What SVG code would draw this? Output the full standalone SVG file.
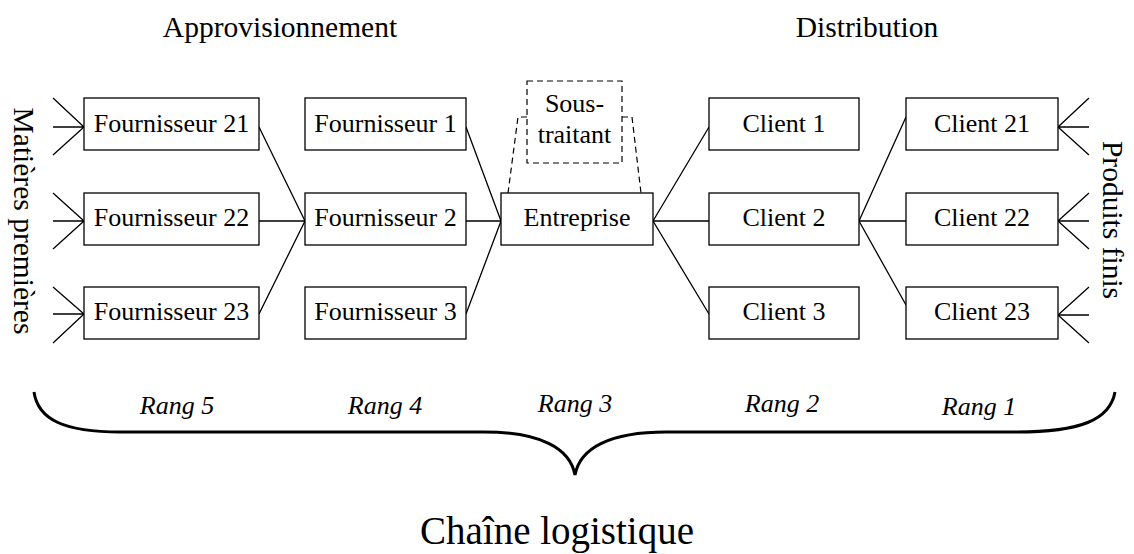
<svg xmlns="http://www.w3.org/2000/svg" width="1134" height="554" viewBox="0 0 1134 554">
<style>
  .box { fill: #ffffff; stroke: #000000; stroke-width: 1.3; }
  .dash { fill: none; stroke: #000000; stroke-width: 1.2; stroke-dasharray: 6 4; }
  .ln { fill: none; stroke: #000000; stroke-width: 1.3; }
  .brace { fill: none; stroke: #000000; stroke-width: 3; }
  .t { font-family: "Liberation Serif", "Times New Roman", serif; font-size: 26px; fill: #000000; text-anchor: middle; }
  .h { font-family: "Liberation Serif", "Times New Roman", serif; font-size: 29.5px; fill: #000000; text-anchor: middle; }
  .r { font-family: "Liberation Serif", "Times New Roman", serif; font-size: 26px; font-style: italic; fill: #000000; text-anchor: middle; }
  .big { font-family: "Liberation Serif", "Times New Roman", serif; font-size: 39px; fill: #000000; text-anchor: middle; }
</style>

<g id="connectors">
  <path class="ln" d="M53,98 L84,127 M53,127 H84 M53,155 L84,127"/>
  <path class="ln" d="M53,193 L84,221 M53,221 H84 M53,249 L84,221"/>
  <path class="ln" d="M53,287 L84,314 M53,314 H84 M53,343 L84,314"/>
  <path class="ln" d="M259,127 L305,221 M259,221 H305 M259,314 L305,221"/>
  <path class="ln" d="M466,127 L501,221 M466,221 H501 M466,314 L501,221"/>
  <path class="ln" d="M653,221 L709,127 M653,221 H709 M653,221 L709,314"/>
  <path class="ln" d="M859,221 L906,117 M859,221 H906 M859,221 L906,305"/>
  <path class="ln" d="M1058,127 L1089,98 M1058,127 H1089 M1058,127 L1089,155"/>
  <path class="ln" d="M1058,221 L1089,193 M1058,221 H1089 M1058,221 L1089,249"/>
  <path class="ln" d="M1058,315 L1089,287 M1058,315 H1089 M1058,315 L1089,343"/>
  <path class="dash" d="M527,117 H518 L508,193"/>
  <path class="dash" d="M622,117 H632 L641,193"/>
</g>

<g id="f21"><rect class="box" x="84" y="98" width="175" height="52"/><text class="t" x="171.5" y="132">Fournisseur 21</text></g>
<g id="f22"><rect class="box" x="84" y="193" width="175" height="52"/><text class="t" x="171.5" y="226">Fournisseur 22</text></g>
<g id="f23"><rect class="box" x="84" y="287" width="175" height="52"/><text class="t" x="171.5" y="320">Fournisseur 23</text></g>

<g id="f1"><rect class="box" x="305" y="98" width="161" height="52"/><text class="t" x="385.5" y="132">Fournisseur 1</text></g>
<g id="f2"><rect class="box" x="305" y="193" width="161" height="52"/><text class="t" x="385.5" y="226">Fournisseur 2</text></g>
<g id="f3"><rect class="box" x="305" y="287" width="161" height="52"/><text class="t" x="385.5" y="320">Fournisseur 3</text></g>

<g id="soustraitant"><rect class="dash" x="527" y="81" width="95" height="82"/><text class="t" x="574.5" y="112">Sous-</text><text class="t" x="574.5" y="143">traitant</text></g>
<g id="entreprise"><rect class="box" x="501" y="193" width="152" height="52"/><text class="t" x="577" y="226">Entreprise</text></g>

<g id="c1"><rect class="box" x="709" y="98" width="150" height="52"/><text class="t" x="784" y="132">Client 1</text></g>
<g id="c2"><rect class="box" x="709" y="193" width="150" height="52"/><text class="t" x="784" y="226">Client 2</text></g>
<g id="c3"><rect class="box" x="709" y="287" width="150" height="52"/><text class="t" x="784" y="320">Client 3</text></g>

<g id="c21"><rect class="box" x="906" y="98" width="152" height="52"/><text class="t" x="982" y="132">Client 21</text></g>
<g id="c22"><rect class="box" x="906" y="193" width="152" height="52"/><text class="t" x="982" y="226">Client 22</text></g>
<g id="c23"><rect class="box" x="906" y="287" width="152" height="52"/><text class="t" x="982" y="320">Client 23</text></g>

<g id="labels">
  <text class="h" x="280" y="37">Approvisionnement</text>
  <text class="h" x="867" y="37">Distribution</text>
  <text class="h" transform="translate(14,221) rotate(90)" x="0" y="0">Matières premières</text>
  <text class="h" transform="translate(1103,220) rotate(90)" x="0" y="0">Produits finis</text>
  <text class="r" x="177" y="414">Rang 5</text>
  <text class="r" x="385" y="414">Rang 4</text>
  <text class="r" x="575" y="412">Rang 3</text>
  <text class="r" x="782" y="412">Rang 2</text>
  <text class="r" x="979" y="415">Rang 1</text>
  <text class="big" x="557" y="544">Chaîne logistique</text>
</g>

<g id="brace">
  <path class="brace" d="M34,392 C38,420 65,432 120,432 L484,432 C540,432 570,448 575,475 C580,448 610,432 666,432 L1017,432 C1080,432 1110,420 1115,392"/>
</g>
</svg>
